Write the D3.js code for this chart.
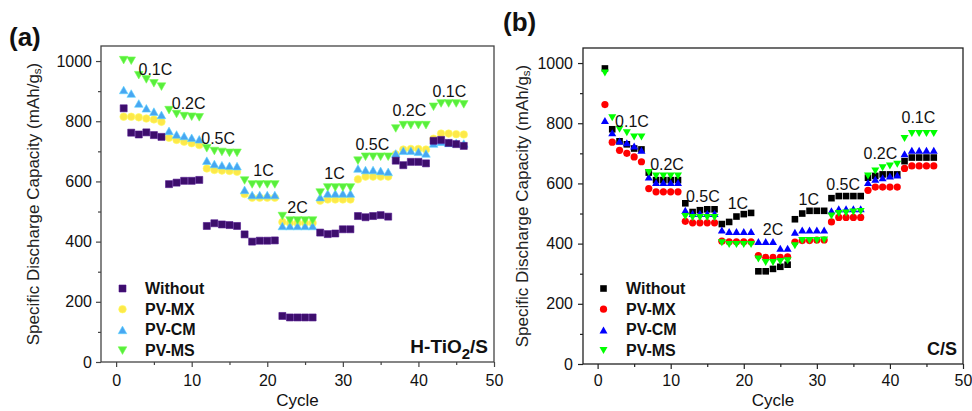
<!DOCTYPE html>
<html>
<head>
<meta charset="utf-8">
<script src="https://cdnjs.cloudflare.com/ajax/libs/d3/7.8.5/d3.min.js"></script>
<style>
  body { margin: 0; background: #fff; }
  svg { display: block; }
</style>
</head>
<body>
<svg id="chart" width="972" height="411"></svg>
<script>
// Cycle numbers 1..46 (first 0.1C step has 6 cycles, the others 5)
const cycles = d3.range(1, 47);
const seriesNames = ["Without", "PV-MX", "PV-CM", "PV-MS"];

// Panel (a): H-TiO2/S cathodes, capacity in mAh/g_s
const withoutA = [843, 762, 756, 763, 754, 748, 591, 596, 602, 602, 605, 452, 461, 457, 455, 452,
  424, 400, 403, 403, 404, 153, 148, 148, 148, 148, 430, 425, 427, 441, 441, 485, 481, 485, 488, 483,
  669, 654, 665, 665, 660, 735, 738, 728, 724, 718];
const pvmxA = [815, 815, 813, 809, 806, 798, 745, 738, 732, 727, 721, 643, 638, 636, 635, 632,
  558, 546, 546, 546, 546, 465, 462, 462, 462, 462, 536, 540, 540, 540, 540, 607, 616, 616, 616, 616,
  690, 706, 708, 708, 706, 742, 759, 759, 757, 756];
const pvcmA = [904, 892, 859, 843, 832, 821, 768, 756, 751, 745, 740, 669, 658, 654, 652, 651,
  572, 555, 555, 555, 555, 452, 452, 452, 452, 452, 548, 560, 560, 560, 560, 643, 638, 638, 635, 632,
  693, 702, 702, 699, 693, 726, 732, 728, 728, 726];
const pvmsA = [1003, 1001, 953, 939, 926, 915, 837, 824, 817, 815, 813, 710, 701, 698, 695, 695,
  603, 590, 590, 590, 590, 485, 470, 470, 470, 470, 563, 580, 580, 580, 580, 669, 682, 682, 682, 682,
  776, 787, 787, 787, 787, 848, 859, 859, 859, 856];

// Panel (b): C/S cathodes
const withoutB = [982, 780, 740, 730, 716, 713, 636, 611, 611, 611, 611, 534, 505, 511, 514, 514,
  465, 472, 490, 498, 502, 308, 308, 316, 323, 330, 481, 500, 509, 509, 509, 551, 558, 558, 558, 558,
  619, 625, 630, 630, 630, 674, 686, 686, 686, 686];
const pvmxB = [862, 737, 710, 700, 688, 672, 583, 572, 572, 572, 572, 474, 469, 469, 469, 469,
  408, 406, 406, 406, 406, 360, 354, 354, 354, 356, 405, 410, 410, 412, 412, 472, 487, 487, 487, 487,
  577, 588, 588, 588, 588, 650, 658, 658, 658, 658];
const pvcmB = [809, 768, 741, 735, 724, 710, 621, 603, 603, 603, 603, 511, 500, 500, 500, 500,
  445, 440, 440, 440, 440, 407, 407, 407, 385, 385, 438, 445, 445, 445, 445, 509, 516, 516, 516, 516,
  603, 614, 619, 625, 628, 699, 710, 710, 710, 710];
const pvmsB = [967, 818, 780, 768, 754, 754, 636, 625, 625, 625, 625, 490, 487, 487, 487, 487,
  403, 397, 397, 397, 397, 349, 337, 337, 341, 343, 393, 410, 410, 410, 412, 492, 500, 502, 505, 507,
  625, 641, 652, 658, 664, 749, 766, 766, 766, 766];

// C-rate steps and where their labels sit (cycle, capacity)
const rateTexts = ["0.1C", "0.2C", "0.5C", "1C", "2C", "1C", "0.5C", "0.2C", "0.1C"];
const rateAnchorA = [[5.2, 973], [9.6, 860], [13.5, 744], [19.5, 635], [24.0, 512],
  [28.9, 625], [33.9, 724], [38.8, 837], [44.1, 900]];
const rateAnchorB = [[4.7, 807], [9.5, 664], [14.4, 558], [19.2, 533], [24.0, 448],
  [28.9, 545], [33.6, 597], [38.7, 699], [43.9, 818]];

// Axis ticks
const xMajor = [0, 10, 20, 30, 40, 50];
const xMinor = [5, 15, 25, 35, 45];
const yMajor = [0, 200, 400, 600, 800, 1000];
const yMinor = [100, 300, 500, 700, 900];

const svg = d3.select("#chart");
svg.append("rect").attr("width", 972).attr("height", 411).attr("fill", "#fff");

const FONT = "'Liberation Sans', Arial, Helvetica, sans-serif";
const shapes = ["square", "circle", "up", "down"];

function markerPath(shape, m) {
  const s = m.sq / 2, w = m.tw / 2, h = m.th / 2;
  if (shape === "square") return `M${-s},${-s}H${s}V${s}H${-s}Z`;
  if (shape === "up") return `M0,${-h}L${w},${h}L${-w},${h}Z`;
  if (shape === "down") return `M0,${h}L${w},${-h}L${-w},${-h}Z`;
  return d3.path().toString();
}

function drawMarker(g, shape, x, y, color, m) {
  if (shape === "circle") {
    return g.append("circle").attr("cx", x).attr("cy", y).attr("r", m.r)
      .attr("fill", color).attr("stroke", m.edge ? d3.color(color).brighter(0.7) : "none")
      .attr("stroke-width", m.edge ? 0.6 : 0);
  }
  return g.append("path").attr("transform", `translate(${x},${y})`)
    .attr("d", markerPath(shape, m)).attr("fill", color)
    .attr("stroke", m.edge ? d3.color(color).brighter(0.7) : "none")
    .attr("stroke-width", m.edge ? 0.6 : 0);
}

function drawPanel(cfg) {
  const x = d3.scaleLinear().domain([-2, 50]).range([cfg.left, cfg.right]);
  const y = d3.scaleLinear().domain([0, 1050]).range([cfg.bottom, cfg.top]);
  const g = svg.append("g");

  // y axis
  const ya = g.append("g").attr("transform", `translate(${cfg.left},0)`)
    .call(d3.axisLeft(y).tickValues(yMajor).tickSize(5).tickPadding(cfg.yPad).tickFormat(d3.format("d")));
  const ym = g.append("g").attr("transform", `translate(${cfg.left},0)`)
    .call(d3.axisLeft(y).tickValues(yMinor).tickSize(3).tickFormat(""));
  // x axis
  const xa = g.append("g").attr("transform", `translate(0,${cfg.bottom})`)
    .call(d3.axisBottom(x).tickValues(xMajor).tickSize(5).tickPadding(cfg.xPad).tickFormat(d3.format("d")));
  const xm = g.append("g").attr("transform", `translate(0,${cfg.bottom})`)
    .call(d3.axisBottom(x).tickValues(xMinor).tickSize(3).tickFormat(""));
  [ya, ym, xa, xm].forEach(a => {
    a.select(".domain").remove();
    a.selectAll("line").attr("stroke", cfg.axisColor).attr("stroke-width", 1.2);
    a.selectAll("text").attr("font-family", FONT).attr("font-size", 16).attr("fill", "#111");
  });

  // frame
  g.append("rect").attr("x", cfg.left).attr("y", cfg.top)
    .attr("width", cfg.right - cfg.left).attr("height", cfg.bottom - cfg.top)
    .attr("fill", "none").attr("stroke", cfg.axisColor).attr("stroke-width", 1.3);

  // axis titles
  g.append("text").attr("x", (cfg.left + cfg.right) / 2).attr("y", 406)
    .attr("text-anchor", "middle").attr("font-family", FONT).attr("font-size", 17).attr("fill", "#111")
    .text("Cycle");
  const yt = g.append("text")
    .attr("transform", `translate(${cfg.yTitleX},${(cfg.top + cfg.bottom) / 2}) rotate(-90)`)
    .attr("text-anchor", "middle").attr("dominant-baseline", "central")
    .attr("font-family", FONT).attr("font-size", 17).attr("fill", "#222");
  yt.append("tspan").text("Specific Discharge Capacity (mAh/g");
  yt.append("tspan").attr("font-size", 11.5).attr("dy", 4).text("s");
  yt.append("tspan").attr("dy", -4).text(")");

  // data points
  cfg.order.forEach(i => {
    const vals = cfg.series[i];
    const sg = g.append("g");
    cycles.forEach((c, k) => drawMarker(sg, shapes[i], x(c), y(vals[k]), cfg.colors[i], cfg.marker));
  });

  // C-rate labels
  cfg.anchors.forEach((a, k) => {
    g.append("text").attr("x", x(a[0])).attr("y", y(a[1]))
      .attr("text-anchor", "middle").attr("dominant-baseline", "central")
      .attr("font-family", FONT).attr("font-size", 16).attr("fill", "#111")
      .text(rateTexts[k]);
  });

  // legend
  seriesNames.forEach((name, i) => {
    const ly = cfg.legendY + i * 20.7;
    drawMarker(g, shapes[i], cfg.legendX, ly, cfg.colors[i], cfg.marker);
    g.append("text").attr("x", cfg.legendX + 22.5).attr("y", ly).attr("dominant-baseline", "central")
      .attr("font-family", FONT).attr("font-size", 16).attr("font-weight", "bold").attr("fill", "#111")
      .text(name);
  });

  // panel letter
  g.append("text").attr("x", cfg.letterX).attr("y", cfg.letterY)
    .attr("font-family", FONT).attr("font-size", 26).attr("font-weight", "bold").attr("fill", "#111")
    .text(cfg.letter);

  return g;
}

const gA = drawPanel({
  left: 101, right: 494, top: 46, bottom: 362, yPad: 4, xPad: 8, axisColor: "#444",
  yTitleX: 33,
  series: [withoutA, pvmxA, pvcmA, pvmsA],
  order: [1, 2, 3, 0],
  colors: ["#3d0e6c", "#fde84a", "#48a6f2", "#58ee3c"],
  marker: { sq: 7, r: 3.8, tw: 8.6, th: 7.6, edge: true },
  anchors: rateAnchorA,
  legendX: 122.5, legendY: 288.5,
  letter: "(a)", letterX: 9, letterY: 46
});
// sample label, bottom right of panel (a)
const lblA = gA.append("text").attr("x", 488).attr("y", 353).attr("text-anchor", "end")
  .attr("font-family", FONT).attr("font-size", 19).attr("font-weight", "bold").attr("fill", "#111");
lblA.append("tspan").text("H-TiO");
lblA.append("tspan").attr("font-size", 15).attr("dy", 6).text("2");
lblA.append("tspan").attr("dy", -6).text("/S");

const gB = drawPanel({
  left: 583, right: 963, top: 48, bottom: 364, yPad: 5, xPad: 6, axisColor: "#222",
  yTitleX: 522,
  series: [withoutB, pvmxB, pvcmB, pvmsB],
  order: [0, 1, 2, 3],
  colors: ["#000000", "#ff0000", "#0000ff", "#00ff00"],
  marker: { sq: 6.6, r: 3.6, tw: 8, th: 7, edge: false },
  anchors: rateAnchorB,
  legendX: 603.5, legendY: 288.5,
  letter: "(b)", letterX: 503, letterY: 31
});
gB.append("text").attr("x", 957).attr("y", 355).attr("text-anchor", "end")
  .attr("font-family", FONT).attr("font-size", 18).attr("font-weight", "bold").attr("fill", "#111")
  .text("C/S");
</script>
</body>
</html>
